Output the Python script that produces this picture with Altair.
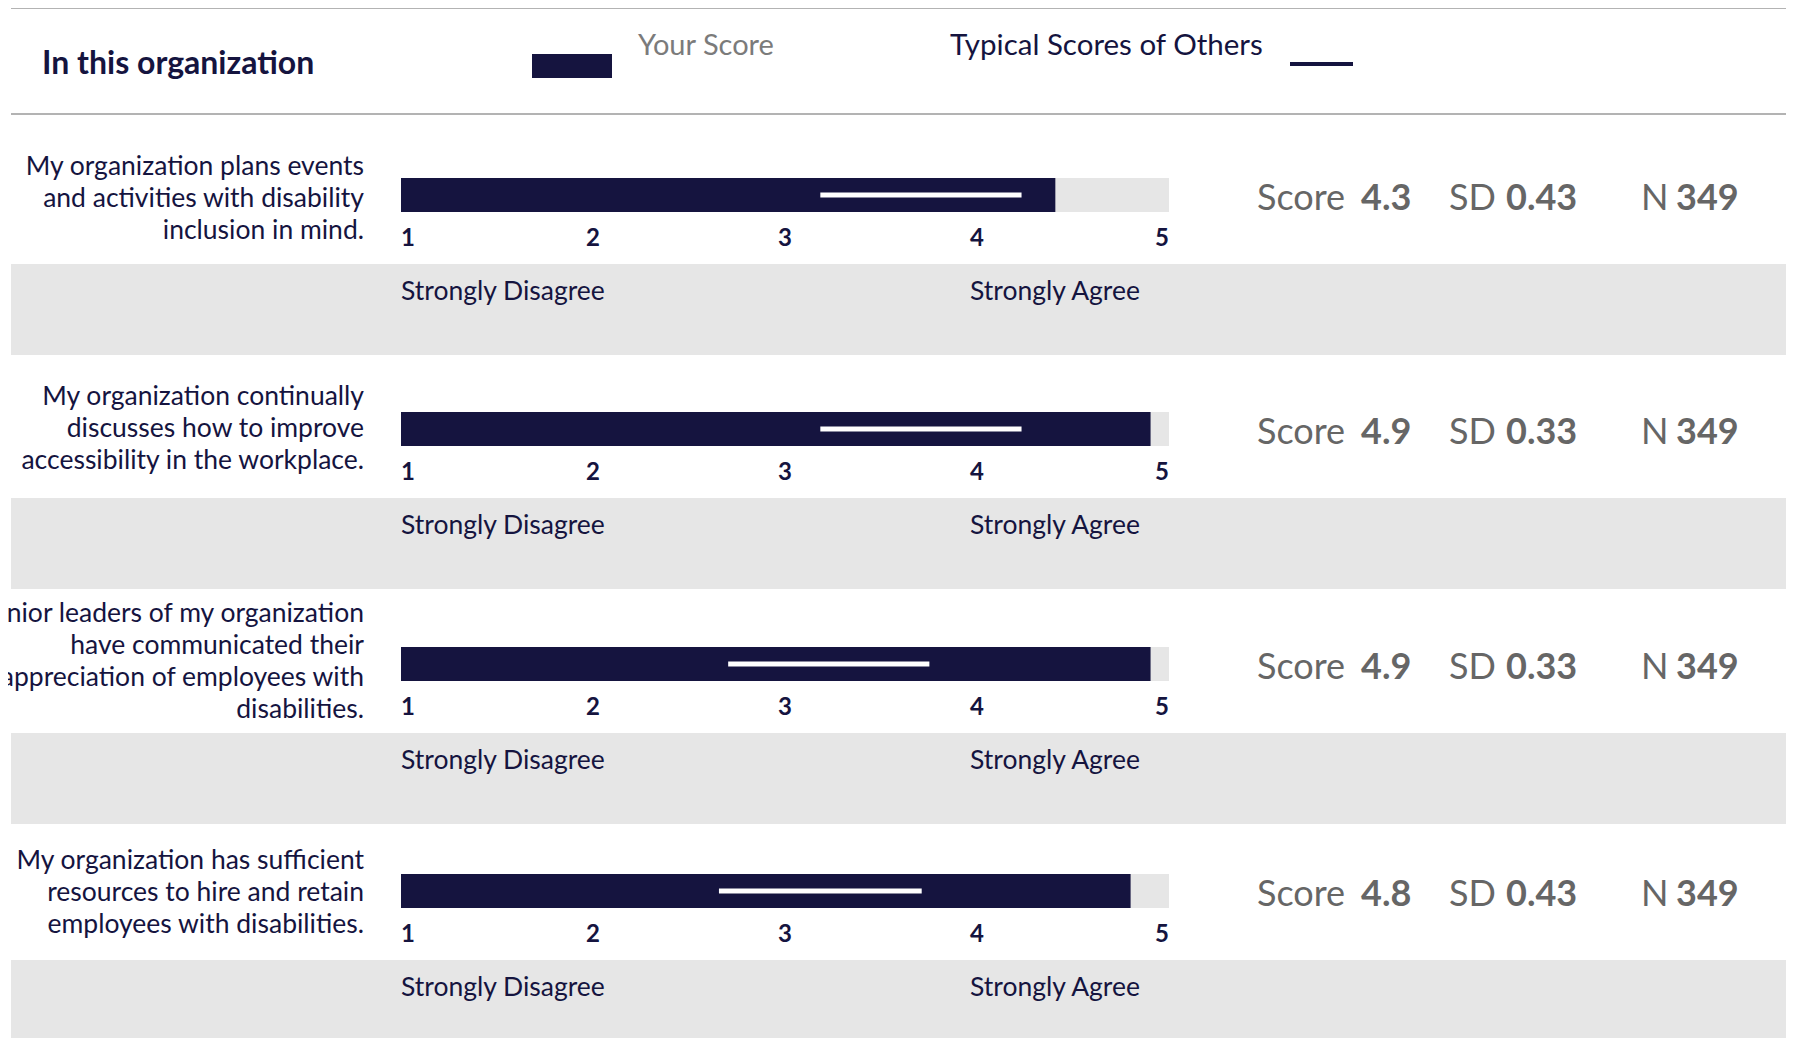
import altair as alt
import pandas as pd

# ---------------- data ----------------
QUESTIONS = [
    "My organization plans events\nand activities with disability\ninclusion in mind.",
    "My organization continually\ndiscusses how to improve\naccessibility in the workplace.",
    "Senior leaders of my organization\nhave communicated their\nappreciation of employees with\ndisabilities.",
    "My organization has sufficient\nresources to hire and retain\nemployees with disabilities.",
]
SCORES = [4.26, 4.88, 4.88, 4.75]
SDS = [0.43, 0.33, 0.33, 0.43]
NS = [349, 349, 349, 349]
OTHERS_LO = [2.73, 2.73, 2.13, 2.07]
OTHERS_HI = [4.04, 4.04, 3.44, 3.39]
TICKS = [1, 2, 3, 4, 5]
ANCHORS = ["Strongly Disagree", "Strongly Agree"]
HEADER = "In this organization"
LEGEND = ["Your Score", "Typical Scores of Others"]

# ---------------- style / layout ----------------
NAVY = "#15143f"
LIGHT = "#e6e6e6"
STAT = "#666666"
FONT = "Lato"
W, H = 1779, 1030
ROW_Y = [195, 429, 664, 891]
LABEL_DY = [4, 0, -2, 2]
LINE_H = 32


def P(v):
    return v - 8


XR = [P(401), P(1169)]
BAR_SCALE = alt.Scale(domain=[0, 5], range=XR)

df = pd.DataFrame({
    "question": QUESTIONS,
    "score": SCORES,
    "sd": SDS,
    "n": NS,
    "lo": OTHERS_LO,
    "hi": OTHERS_HI,
    "zero": [0] * len(SCORES),
    "top": [5] * len(SCORES),
})

layers = []

# header
hdr = pd.DataFrame({"title": [HEADER], "you": [LEGEND[0]], "others": [LEGEND[1]]})
hb = alt.Chart(hdr)
for yy in (8, 114):
    layers.append(hb.mark_rule(color="#b3b3b3", strokeWidth=2).encode(
        x=alt.value(P(11)), x2=alt.value(P(1786)), y=alt.value(P(yy))))
layers.append(hb.mark_text(align="left", baseline="middle", font=FONT, fontSize=32,
                           fontWeight="bold", color=NAVY).encode(
    x=alt.value(P(42)), y=alt.value(P(64)), text="title:N"))
layers.append(hb.mark_rect(color=NAVY).encode(
    x=alt.value(P(532)), x2=alt.value(P(612)), y=alt.value(P(54)), y2=alt.value(P(78))))
layers.append(hb.mark_text(align="left", baseline="middle", font=FONT, fontSize=29,
                           color="#7b7b7b").encode(
    x=alt.value(P(638)), y=alt.value(P(46)), text="you:N"))
layers.append(hb.mark_text(align="left", baseline="middle", font=FONT, fontSize=29.5,
                           color=NAVY).encode(
    x=alt.value(P(950)), y=alt.value(P(46)), text="others:N"))
layers.append(hb.mark_rule(color=NAVY, strokeWidth=4).encode(
    x=alt.value(P(1290)), x2=alt.value(P(1353)), y=alt.value(P(64))))

tick_df = pd.DataFrame({"tick": TICKS})
anchor_df = pd.DataFrame({"lbl": ANCHORS})

for i, ry in enumerate(ROW_Y):
    row = alt.Chart(df.iloc[[i]])
    n_lines = QUESTIONS[i].count("\n") + 1
    # grey band below
    layers.append(row.mark_rect(color=LIGHT).encode(
        x=alt.value(P(11)), x2=alt.value(P(1786)),
        y=alt.value(P(ry + 69)), y2=alt.value(P(ry + 160))))
    # background track
    layers.append(row.mark_rect(color=LIGHT).encode(
        x=alt.X("zero:Q", scale=BAR_SCALE, axis=None), x2="top:Q",
        y=alt.value(P(ry - 17)), y2=alt.value(P(ry + 17))))
    # score bar
    layers.append(row.mark_rect(color=NAVY).encode(
        x=alt.X("zero:Q", scale=BAR_SCALE, axis=None), x2="score:Q",
        y=alt.value(P(ry - 17)), y2=alt.value(P(ry + 17))))
    # typical scores of others
    layers.append(row.mark_rule(color="white", strokeWidth=5).encode(
        x=alt.X("lo:Q", scale=BAR_SCALE, axis=None), x2="hi:Q",
        y=alt.value(P(ry))))
    # tick labels (1..5 spread across the track)
    tk = alt.Chart(tick_df).transform_calculate(pos="(datum.tick - 1) * 5 / 4")
    for cond, al in (("datum.tick == 1", "left"), ("datum.tick > 1 && datum.tick < 5", "center"),
                     ("datum.tick == 5", "right")):
        layers.append(tk.transform_filter(cond).mark_text(
            align=al, baseline="middle", font=FONT, fontSize=24, fontWeight="bold",
            color=NAVY).encode(
            x=alt.X("pos:Q", scale=BAR_SCALE, axis=None),
            y=alt.value(P(ry + 44)), text="tick:N"))
    # statement (block vertically centred on the bar)
    layers.append(row.mark_text(align="right", baseline="middle", font=FONT, fontSize=26.5,
                                lineBreak="\n", lineHeight=LINE_H, color=NAVY).encode(
        x=alt.value(P(364)),
        y=alt.value(P(ry + LABEL_DY[i] - (n_lines - 1) * LINE_H / 2)),
        text="question:N"))
    # anchors
    an = alt.Chart(anchor_df)
    layers.append(an.transform_filter(f"datum.lbl == '{ANCHORS[0]}'").mark_text(
        align="left", baseline="middle", font=FONT, fontSize=26.5, color=NAVY).encode(
        x=alt.value(P(401)), y=alt.value(P(ry + 97)), text="lbl:N"))
    layers.append(an.transform_filter(f"datum.lbl == '{ANCHORS[1]}'").mark_text(
        align="left", baseline="middle", font=FONT, fontSize=26.5, color=NAVY).encode(
        x=alt.value(P(970)), y=alt.value(P(ry + 97)), text="lbl:N"))
    # stats
    for lx, lab, vx, fld, fmt in ((1257, "Score", 1361, "score", ".1f"),
                                  (1449, "SD", 1506, "sd", ".2f"),
                                  (1641, "N", 1676, "n", "d")):
        layers.append(row.mark_text(align="left", baseline="middle", font=FONT, fontSize=36,
                                    color=STAT, text=lab).encode(
            x=alt.value(P(lx)), y=alt.value(P(ry + 4))))
        layers.append(row.mark_text(align="left", baseline="middle", font=FONT, fontSize=36,
                                    fontWeight="bold", color=STAT).encode(
            x=alt.value(P(vx)), y=alt.value(P(ry + 4)),
            text=alt.Text(f"{fld}:Q", format=fmt)))

chart = alt.layer(*layers).properties(
    width=W, height=H, padding=0,
    autosize=alt.AutoSizeParams(type="none"),
).configure_view(strokeWidth=0)

chart.save("out.html", embed_options={"renderer": "svg", "actions": False})
